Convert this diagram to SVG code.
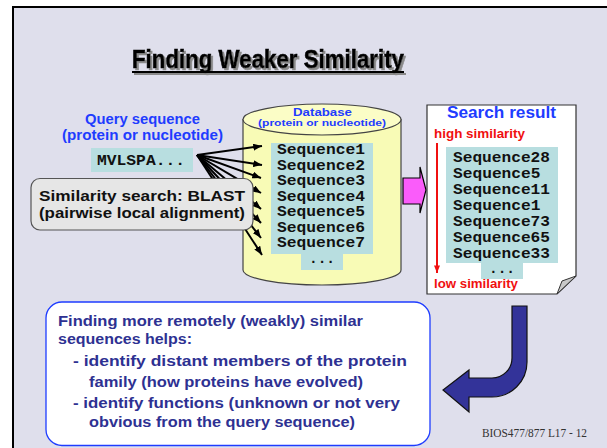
<svg xmlns="http://www.w3.org/2000/svg" width="607" height="448" viewBox="0 0 607 448">
  <style>
    .comic { font-family: "Liberation Sans", "DejaVu Sans", sans-serif; font-weight: bold; }
    .mono { font-family: "Liberation Mono", "DejaVu Sans Mono", monospace; font-weight: bold; font-size: 14.5px; fill: #111; }
    .blue { fill: #1E3CFF; }
    .red { fill: #F01010; }
    .navy { fill: #2E3192; }
    .teal { fill: #B8DEE0; }
    .fan { stroke: #000; stroke-width: 2; fill: none; marker-end: url(#headBlack); }
  </style>
  <defs>
    <marker id="headBlack" viewBox="0 0 10 8" refX="10" refY="4" markerWidth="9" markerHeight="7" markerUnits="userSpaceOnUse" orient="auto">
      <path d="M0,0 L10,4 L0,8 Z" fill="#000"/>
    </marker>
    <marker id="headRed" viewBox="0 0 8 10" refX="4" refY="10" markerWidth="6" markerHeight="8" markerUnits="userSpaceOnUse" orient="0">
      <path d="M0,0 L8,0 L4,10 Z" fill="#F01010"/>
    </marker>
    <filter id="titleShadow" x="-5%" y="-20%" width="110%" height="150%">
      <feDropShadow dx="2" dy="2" stdDeviation="0" flood-color="#8A8A8A" flood-opacity="1"/>
    </filter>
  </defs>

  <!-- slide background and frame -->
  <rect x="0" y="0" width="607" height="448" fill="#FFFFFF"/>
  <rect x="13" y="7" width="594" height="441" fill="#DFDFEC"/>
  <line x1="12" y1="7" x2="607" y2="7" stroke="#000" stroke-width="2"/>
  <line x1="13" y1="6" x2="13" y2="448" stroke="#000" stroke-width="2"/>

  <!-- title with drop shadow -->
  <g id="title" filter="url(#titleShadow)" font-family="'Liberation Sans Narrow', 'Liberation Sans', sans-serif" font-weight="bold" font-size="25">
    <text x="132" y="68" fill="#000" stroke="#000" stroke-width="0.6" textLength="272" lengthAdjust="spacingAndGlyphs">Finding Weaker Similarity</text>
    <rect x="132" y="71" width="272" height="2" fill="#000"/>
  </g>

  <!-- query sequence -->
  <g id="query">
    <text class="comic blue" x="142.5" y="123.5" font-size="14.5" text-anchor="middle" textLength="115" lengthAdjust="spacingAndGlyphs">Query sequence</text>
    <text class="comic blue" x="142.5" y="140" font-size="14.5" text-anchor="middle" textLength="161" lengthAdjust="spacingAndGlyphs">(protein or nucleotide)</text>
    <rect class="teal" x="91" y="148" width="102" height="24"/>
    <text class="mono" x="97" y="165" textLength="88" lengthAdjust="spacingAndGlyphs">MVLSPA...</text>
  </g>

  <!-- database cylinder -->
  <g id="database">
    <path d="M243,119.5 L243,270 A79,15 0 0 0 401,270 L401,119.5 Z" fill="#F8FBB6" stroke="#444" stroke-width="1.2"/>
    <ellipse cx="322" cy="119.5" rx="79" ry="15.5" fill="#FBFDC6" stroke="#444" stroke-width="1.2"/>
    <text class="comic blue" x="322.5" y="116" font-size="11.5" text-anchor="middle" textLength="59" lengthAdjust="spacingAndGlyphs">Database</text>
    <text class="comic blue" x="322" y="126" font-size="9" text-anchor="middle" textLength="128" lengthAdjust="spacingAndGlyphs">(protein or nucleotide)</text>
    <rect class="teal" x="271" y="143" width="102" height="111"/>
    <rect class="teal" x="301" y="253" width="42" height="17"/>
    <g class="mono">
      <text x="277" y="154" textLength="88" lengthAdjust="spacingAndGlyphs">Sequence1</text>
      <text x="277" y="169.5" textLength="88" lengthAdjust="spacingAndGlyphs">Sequence2</text>
      <text x="277" y="185" textLength="88" lengthAdjust="spacingAndGlyphs">Sequence3</text>
      <text x="277" y="200.5" textLength="88" lengthAdjust="spacingAndGlyphs">Sequence4</text>
      <text x="277" y="216" textLength="88" lengthAdjust="spacingAndGlyphs">Sequence5</text>
      <text x="277" y="231.5" textLength="88" lengthAdjust="spacingAndGlyphs">Sequence6</text>
      <text x="277" y="247" textLength="88" lengthAdjust="spacingAndGlyphs">Sequence7</text>
      <text x="322" y="263" text-anchor="middle">...</text>
    </g>
  </g>

  <!-- pairwise comparisons fanning out from the query -->
  <g id="connectors">
    <line class="fan" x1="197" y1="155" x2="262" y2="146"/>
    <line class="fan" x1="197" y1="155" x2="262" y2="165"/>
    <line class="fan" x1="197" y1="155" x2="261" y2="178"/>
    <line class="fan" x1="197" y1="155" x2="261" y2="193"/>
    <line class="fan" x1="197" y1="155" x2="261" y2="209"/>
    <line class="fan" x1="197" y1="155" x2="261" y2="223"/>
    <line class="fan" x1="197" y1="155" x2="261" y2="238"/>
    <line class="fan" x1="197" y1="155" x2="262" y2="255"/>
  </g>

  <!-- BLAST label over the fan -->
  <g id="blast">
    <rect x="31" y="178.5" width="222" height="51.5" rx="9" fill="#E6E6E6" stroke="#555" stroke-width="1.2"/>
    <text x="142" y="201" font-size="15" fill="#111" class="comic" text-anchor="middle" textLength="206" lengthAdjust="spacingAndGlyphs">Similarity search: BLAST</text>
    <text x="142" y="218" font-size="15" fill="#111" class="comic" text-anchor="middle" textLength="206" lengthAdjust="spacingAndGlyphs">(pairwise local alignment)</text>
  </g>

  <!-- block arrow into the result page -->
  <g id="transfer-arrow">
    <path d="M403,178 L420,178 L420,167 L426,190 L420,213 L420,204 L403,204 Z" fill="#FA5CFA" stroke="#000" stroke-width="1.2"/>
  </g>

  <!-- search result page -->
  <g id="search-result">
    <path d="M427,105 L576,105 L576,276 L557,294 L427,294 Z" fill="#FFFFFF" stroke="#333" stroke-width="1.2"/>
    <path d="M576,276 L557,294 L562,281 Z" fill="#C8C8C8" stroke="#333" stroke-width="1"/>
    <text class="comic blue" x="501.5" y="118" font-size="16" text-anchor="middle" textLength="109" lengthAdjust="spacingAndGlyphs">Search result</text>
    <text class="comic red" x="434" y="138" font-size="13" textLength="91" lengthAdjust="spacingAndGlyphs">high similarity</text>
    <line x1="437" y1="143" x2="437" y2="273" stroke="#F01010" stroke-width="2" marker-end="url(#headRed)"/>
    <rect class="teal" x="446" y="147" width="112" height="116"/>
    <rect class="teal" x="481" y="262" width="42" height="17"/>
    <g class="mono">
      <text x="453" y="162" textLength="97" lengthAdjust="spacingAndGlyphs">Sequence28</text>
      <text x="453" y="178" textLength="87.5" lengthAdjust="spacingAndGlyphs">Sequence5</text>
      <text x="453" y="194" textLength="97" lengthAdjust="spacingAndGlyphs">Sequence11</text>
      <text x="453" y="210" textLength="87.5" lengthAdjust="spacingAndGlyphs">Sequence1</text>
      <text x="453" y="226" textLength="97" lengthAdjust="spacingAndGlyphs">Sequence73</text>
      <text x="453" y="242" textLength="97" lengthAdjust="spacingAndGlyphs">Sequence65</text>
      <text x="453" y="258" textLength="97" lengthAdjust="spacingAndGlyphs">Sequence33</text>
      <text x="502" y="273" text-anchor="middle">...</text>
    </g>
    <text class="comic red" x="434" y="288" font-size="13" textLength="84" lengthAdjust="spacingAndGlyphs">low similarity</text>
  </g>

  <!-- summary box -->
  <g id="summary" class="comic navy" font-size="14">
    <rect x="46" y="302" width="384" height="143.5" rx="16" fill="#FFFFFF" stroke="#1E3CFF" stroke-width="1.3"/>
    <text x="58" y="326" textLength="305" lengthAdjust="spacingAndGlyphs">Finding more remotely (weakly) similar</text>
    <text x="58" y="344" textLength="134" lengthAdjust="spacingAndGlyphs">sequences helps:</text>
    <text x="73" y="366" textLength="334" lengthAdjust="spacingAndGlyphs">- identify distant members of the protein</text>
    <text x="89" y="386.5" textLength="274" lengthAdjust="spacingAndGlyphs">family (how proteins have evolved)</text>
    <text x="73" y="408" textLength="327" lengthAdjust="spacingAndGlyphs">- identify functions (unknown or not very</text>
    <text x="89" y="427" textLength="266" lengthAdjust="spacingAndGlyphs">obvious from the query sequence)</text>
  </g>

  <!-- U-turn arrow back to the summary -->
  <g id="return-arrow">
    <path d="M512,306 L527,306 L527,362 A35,35 0 0 1 492,397 L469,397 L469,412 L443,390 L469,370 L469,378 L492,378 A20,20 0 0 0 512,358 Z" fill="#333399" stroke="#111" stroke-width="1.2"/>
  </g>

  <!-- footer -->
  <g id="footer">
    <text x="482" y="437" font-family="'Liberation Serif', serif" font-size="12" fill="#333" textLength="105" lengthAdjust="spacingAndGlyphs">BIOS477/877 L17 - 12</text>
  </g>
</svg>
